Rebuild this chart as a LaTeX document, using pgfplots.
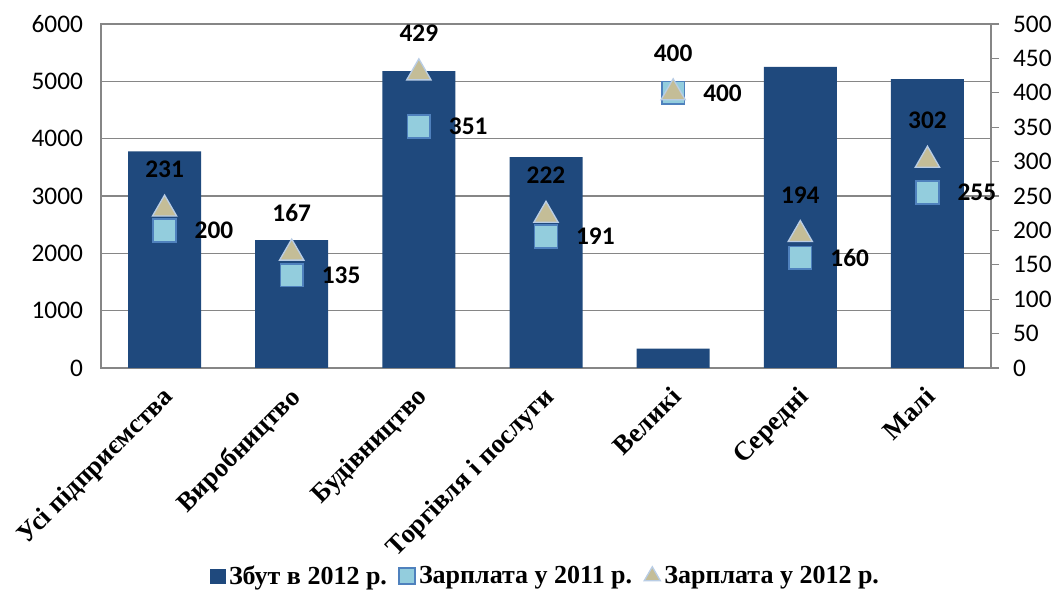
\documentclass[border=0pt]{standalone}
\usepackage{fontspec}
\setmainfont{Liberation Serif}
\newfontfamily\calibri{Carlito}
\usepackage{pgfplots}
\pgfplotsset{compat=1.18}
\definecolor{barblue}{HTML}{1F497D}
\definecolor{sqfill}{HTML}{93CDDD}
\definecolor{sqdraw}{HTML}{4F81BD}
\definecolor{trifill}{HTML}{C4BD97}
\definecolor{tridraw}{HTML}{B9CDE5}
\definecolor{gridgray}{HTML}{868686}
\begin{document}
\begin{tikzpicture}
\begin{axis}[name=main, scale only axis, width=667.5pt, height=258pt,
  xmin=-0.5, xmax=6.5, ymin=0, ymax=6000, ytick={0,1000,...,6000},
  xtick={0,...,6},
  xticklabels={Усі підприємства, Виробництво, Будівництво, Торгівля і послуги, Великі, Середні, Малі},
  xtick style={draw=none}, ytick style={draw=none},
  axis line style={gridgray, line width=0.8pt},
  ymajorgrids, grid style={gridgray, line width=0.8pt},
  ybar, bar width=54.75pt,
  /pgf/number format/1000 sep={}, /pgf/number format/assume math mode=true,
  yticklabel style={font=\calibri\fontsize{19}{21}\selectfont, xshift=-10pt},
  xticklabel style={font=\bfseries\fontsize{20}{22}\selectfont, rotate=45, anchor=north east, inner sep=2pt, xshift=-6pt, yshift=-2pt},
]
\addplot[fill=barblue, draw=none] coordinates {(0,3780) (1,2230) (2,5180) (3,3680) (4,340) (5,5250) (6,5040)};
\end{axis}
\begin{axis}[scale only axis, width=667.5pt, height=258pt,
  xmin=-0.5, xmax=6.5, ymin=0, ymax=500, ytick={0,50,...,500},
  axis y line*=right, axis x line=none,
  y axis line style={gridgray, line width=0.8pt},
  ytick style={gridgray, line width=0.8pt}, tick align=outside, major tick length=6pt,
  /pgf/number format/1000 sep={}, /pgf/number format/assume math mode=true,
  yticklabel style={font=\calibri\fontsize{19}{21}\selectfont, xshift=7pt},
  legend style={at={(0.5,-0.605)}, anchor=center, legend columns=-1, draw=none,
    font=\bfseries\fontsize{19.5}{22}\selectfont,
    /tikz/every odd column/.style={column sep=1pt},
    /tikz/every even column/.style={column sep=7pt}},
]
\addlegendimage{only marks, mark=square*, mark size=5.5pt, barblue}
\addlegendentry{Збут в 2012 р.}
\addplot[only marks, mark=square*, mark size=8.5pt,
  mark options={fill=sqfill, draw=sqdraw, line width=1.2pt},
  legend image post style={mark size=6pt},
  nodes near coords,
  every node near coord/.append style={anchor=west, xshift=22pt, inner sep=0pt,
    font=\calibri\bfseries\fontsize{19}{21}\selectfont, text=black}]
  coordinates {(0,200) (1,135) (2,351) (3,191) (4,400) (5,160) (6,255)};
\addlegendentry{Зарплата у 2011 р.}
\addplot[only marks, mark=triangle*, mark size=10.5pt,
  mark options={fill=trifill, draw=tridraw, line width=1pt},
  legend image post style={mark size=7pt},
  nodes near coords,
  every node near coord/.append style={anchor=south, yshift=23pt, inner sep=0pt,
    font=\calibri\bfseries\fontsize{19}{21}\selectfont, text=black}]
  coordinates {(0,231) (1,167) (2,429) (3,222) (4,400) (5,194) (6,302)};
\addlegendentry{Зарплата у 2012 р.}
\end{axis}
\pgfresetboundingbox
\path ([xshift=-75.75pt, yshift=-180pt]main.south west) rectangle ([xshift=52.5pt, yshift=18pt]main.north east);
\end{tikzpicture}
\end{document}
